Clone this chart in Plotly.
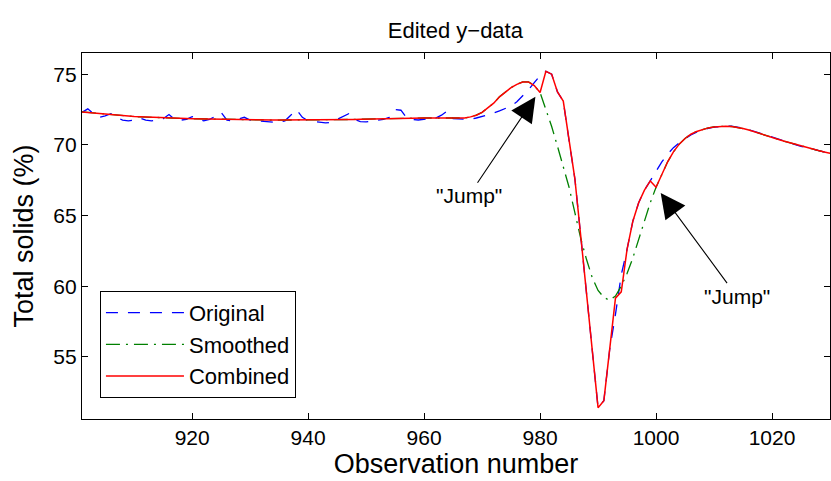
import plotly.graph_objects as go

# Observation numbers
obs = list(range(901, 1031))

# Raw measurements (Total solids, %)
original = [
    72.30, 72.55, 72.20, 71.95, 72.05, 72.20, 71.95, 71.75, 71.70, 71.75,
    71.90, 71.75, 71.70, 71.80, 71.85, 72.15, 71.80, 71.75, 71.80, 72.00,
    71.85, 71.70, 71.80, 72.00, 72.30, 71.75, 71.70, 71.85, 71.95, 71.75,
    71.70, 71.65, 71.62, 71.60, 71.58, 71.70, 72.10, 72.50, 71.95, 71.70,
    71.65, 71.60, 71.55, 71.60, 71.80, 71.95, 72.20, 71.80, 71.65, 71.62,
    71.70, 71.75, 71.80, 71.95, 72.50, 72.45, 71.90, 71.80, 71.76, 71.80,
    71.85, 71.90, 72.10, 72.40, 71.85, 71.85, 71.85, 71.80, 71.90, 72.00,
    72.10, 72.25, 72.40, 72.55, 72.75, 73.05, 73.45, 73.90, 74.40, 74.90,
    75.20, 75.00, 73.75, 73.10, 70.30, 67.60, 63.60, 59.60, 55.50, 51.40,
    51.90, 55.50, 58.00, 60.80, 62.60, 64.60, 65.90, 66.80, 67.45, 68.10,
    68.80, 69.35, 69.80, 70.15, 70.45, 70.70, 70.90, 71.05, 71.17, 71.25,
    71.30, 71.33, 71.33, 71.28, 71.18, 71.07, 70.95, 70.82, 70.68, 70.55,
    70.42, 70.28, 70.13, 70.02, 69.90, 69.80, 69.70, 69.60, 69.50, 69.40,
]

# Smoothed series
smoothed = [
    72.33, 72.29, 72.25, 72.20, 72.15, 72.11, 72.07, 72.04, 72.02, 72.00,
    71.98, 71.96, 71.94, 71.92, 71.90, 71.89, 71.88, 71.87, 71.86, 71.85,
    71.84, 71.82, 71.81, 71.80, 71.79, 71.78, 71.77, 71.77, 71.76, 71.76,
    71.76, 71.75, 71.75, 71.75, 71.75, 71.75, 71.75, 71.75, 71.75, 71.75,
    71.75, 71.75, 71.75, 71.76, 71.77, 71.78, 71.79, 71.80, 71.81, 71.82,
    71.84, 71.86, 71.87, 71.88, 71.89, 71.90, 71.90, 71.90, 71.90, 71.90,
    71.90, 71.90, 71.89, 71.88, 71.87, 71.86, 71.90, 71.98, 72.10, 72.30,
    72.60, 72.95, 73.40, 73.75, 74.05, 74.28, 74.45, 74.45, 74.20, 73.70,
    72.50, 71.30, 69.90, 68.40, 67.00, 65.20, 63.40, 61.90, 60.60, 59.70,
    59.20, 59.00, 59.30, 60.00, 60.90, 62.00, 63.30, 64.70, 65.90, 67.00,
    67.95, 68.80, 69.50, 70.05, 70.45, 70.75, 70.95, 71.10, 71.20, 71.27,
    71.30, 71.32, 71.30, 71.25, 71.15, 71.05, 70.93, 70.80, 70.65, 70.52,
    70.40, 70.27, 70.15, 70.03, 69.92, 69.81, 69.70, 69.60, 69.50, 69.40,
]

# Combined series: smoothed outside the dip, raw values inside it
combined = [
    72.33, 72.29, 72.25, 72.20, 72.15, 72.11, 72.07, 72.04, 72.02, 72.00,
    71.98, 71.96, 71.94, 71.92, 71.90, 71.89, 71.88, 71.87, 71.86, 71.85,
    71.84, 71.82, 71.81, 71.80, 71.79, 71.78, 71.77, 71.77, 71.76, 71.76,
    71.76, 71.75, 71.75, 71.75, 71.75, 71.75, 71.75, 71.75, 71.75, 71.75,
    71.75, 71.75, 71.75, 71.76, 71.77, 71.78, 71.79, 71.80, 71.81, 71.82,
    71.84, 71.86, 71.87, 71.88, 71.89, 71.90, 71.90, 71.90, 71.90, 71.90,
    71.90, 71.90, 71.89, 71.88, 71.87, 71.86, 71.90, 71.98, 72.10, 72.30,
    72.60, 72.95, 73.40, 73.75, 74.05, 74.28, 74.45, 74.45, 74.20, 73.70,
    75.20, 75.00, 73.75, 73.10, 70.30, 67.60, 63.60, 59.60, 55.50, 51.40,
    51.90, 55.50, 59.15, 59.60, 62.60, 64.60, 65.90, 66.80, 67.45, 67.00,
    67.95, 68.80, 69.50, 70.05, 70.45, 70.75, 70.95, 71.10, 71.20, 71.27,
    71.30, 71.32, 71.30, 71.25, 71.15, 71.05, 70.93, 70.80, 70.65, 70.52,
    70.40, 70.27, 70.15, 70.03, 69.92, 69.81, 69.70, 69.60, 69.50, 69.40,
]

# Arrow tips (observation, value) and label centres for the "Jump" callouts
jump_tips = [(979.2, 73.4), (1000.8, 66.6)]
jump_labels = [(967.7, 66.4), (1013.9, 59.3)]

FONT = "Liberation Sans, Arial, Helvetica, sans-serif"

fig = go.Figure()
fig.add_trace(go.Scatter(x=obs, y=original, name="Original", mode="lines",
                         line=dict(color="#0000ff", width=1.3, dash="12px,10px")))
fig.add_trace(go.Scatter(x=obs, y=smoothed, name="Smoothed", mode="lines",
                         line=dict(color="#008000", width=1.3, dash="14px,6px,2px,6px")))
fig.add_trace(go.Scatter(x=obs, y=combined, name="Combined", mode="lines",
                         line=dict(color="#ff0000", width=1.5)))

for (tx, ty), (lx, ly) in zip(jump_tips, jump_labels):
    fig.add_annotation(x=tx, y=ty, ax=lx, ay=ly, axref="x", ayref="y",
                       text='"Jump"', showarrow=True, arrowhead=2,
                       arrowsize=4.5, arrowwidth=1.1, arrowcolor="black",
                       font=dict(family=FONT, size=21, color="black"))

axis_common = dict(showline=True, linecolor="black", linewidth=1.3, mirror="ticks",
                   ticks="inside", ticklen=6, tickcolor="black", tickwidth=1,
                   showgrid=False, zeroline=False,
                   tickfont=dict(family=FONT, size=21, color="black"))

fig.update_xaxes(range=[901, 1030], tickvals=[920, 940, 960, 980, 1000, 1020],
                 title=dict(text="Observation number", standoff=4,
                            font=dict(family=FONT, size=27, color="black")),
                 **axis_common)
fig.update_yaxes(range=[50.6, 76.5], tickvals=[55, 60, 65, 70, 75],
                 title=dict(text="Total solids (%)", standoff=11,
                            font=dict(family=FONT, size=27, color="black")),
                 **axis_common)

fig.update_layout(
    width=831, height=481,
    margin=dict(l=82, r=1, t=53, b=62),
    paper_bgcolor="white", plot_bgcolor="white",
    title=dict(text="Edited y\u2212data", x=0.548, xanchor="center",
               y=1 - 30 / 481, yanchor="middle",
               font=dict(family=FONT, size=22, color="black")),
    legend=dict(x=0.024, y=0.35, xanchor="left", yanchor="top",
                bgcolor="white", bordercolor="black", borderwidth=1,
                font=dict(family=FONT, size=22, color="black"),
                itemwidth=78, tracegroupgap=0),
    showlegend=True,
)

fig.write_html("out.html")
